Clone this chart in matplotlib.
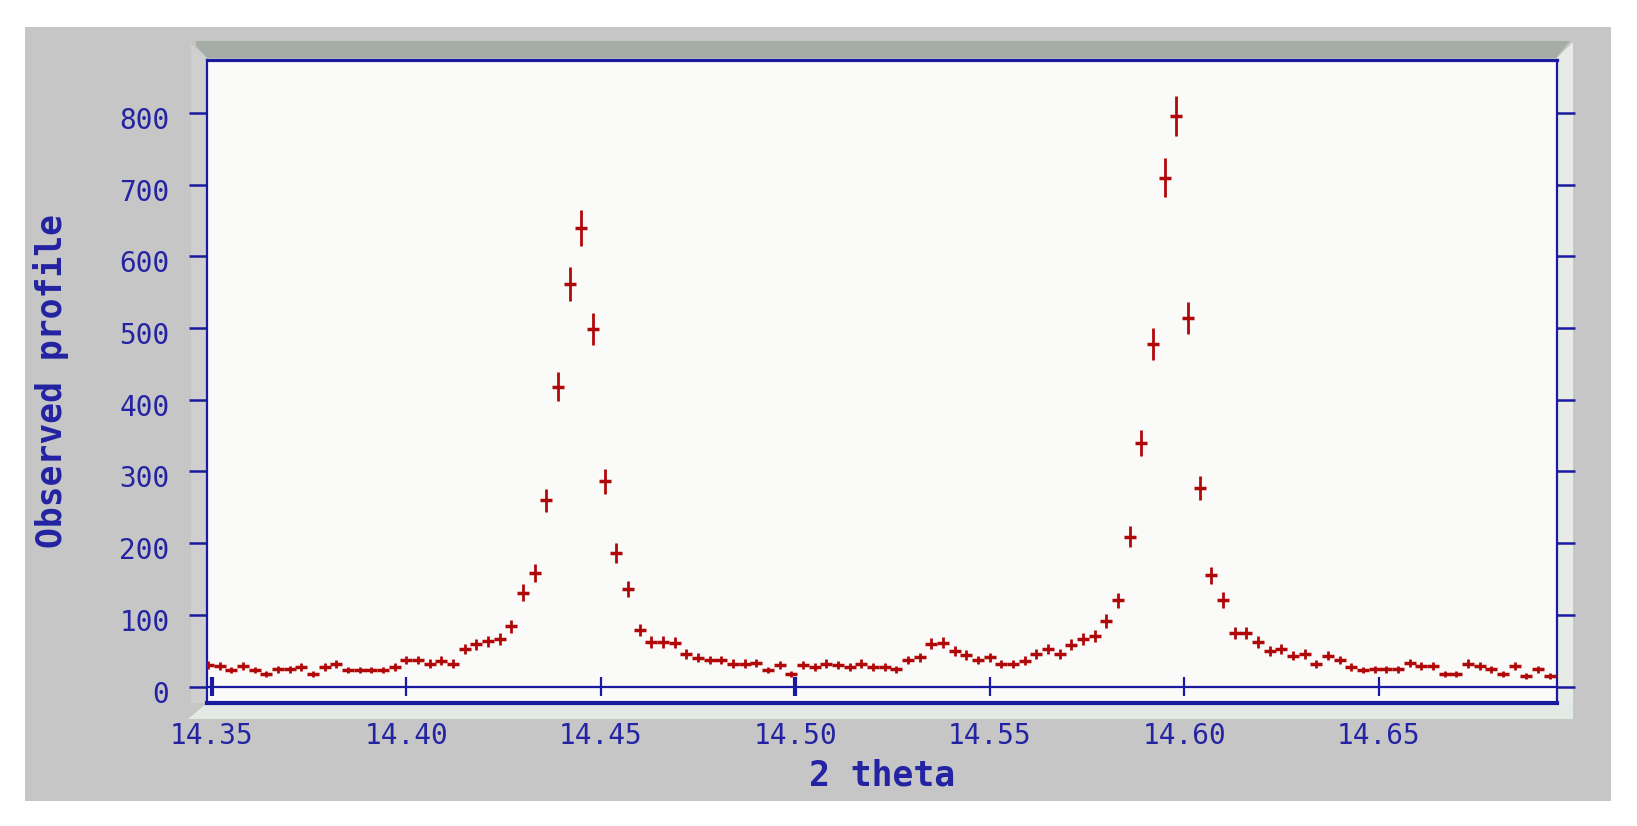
import matplotlib
matplotlib.use('Agg')
import matplotlib.pyplot as plt
import matplotlib.transforms as mtransforms
from matplotlib.patches import Polygon

# observed profile (2 theta, counts, esd)
two_theta = [14.349, 14.352, 14.355, 14.358, 14.361, 14.364, 14.367, 14.370, 14.373, 14.376,
             14.379, 14.382, 14.385, 14.388, 14.391, 14.394, 14.397, 14.400, 14.403, 14.406,
             14.409, 14.412, 14.415, 14.418, 14.421, 14.424, 14.427, 14.430, 14.433, 14.436,
             14.439, 14.442, 14.445, 14.448, 14.451, 14.454, 14.457, 14.460, 14.463, 14.466,
             14.469, 14.472, 14.475, 14.478, 14.481, 14.484, 14.487, 14.490, 14.493, 14.496,
             14.499, 14.502, 14.505, 14.508, 14.511, 14.514, 14.517, 14.520, 14.523, 14.526,
             14.529, 14.532, 14.535, 14.538, 14.541, 14.544, 14.547, 14.550, 14.553, 14.556,
             14.559, 14.562, 14.565, 14.568, 14.571, 14.574, 14.577, 14.580, 14.583, 14.586,
             14.589, 14.592, 14.595, 14.598, 14.601, 14.604, 14.607, 14.610, 14.613, 14.616,
             14.619, 14.622, 14.625, 14.628, 14.631, 14.634, 14.637, 14.640, 14.643, 14.646,
             14.649, 14.652, 14.655, 14.658, 14.661, 14.664, 14.667, 14.670, 14.673, 14.676,
             14.679, 14.682, 14.685, 14.688, 14.691, 14.694]
counts = [30, 29, 23, 29, 23, 17, 24, 24, 27, 17,
          27, 31, 23, 23, 23, 23, 27, 37, 37, 32,
          36, 32, 52, 59, 63, 66, 84, 131, 158, 260,
          418, 562, 640, 499, 286, 186, 136, 79, 62, 62,
          61, 45, 40, 37, 37, 32, 32, 33, 23, 30,
          17, 30, 27, 32, 30, 27, 32, 27, 27, 24,
          37, 41, 60, 61, 49, 44, 37, 41, 31, 31,
          36, 45, 52, 45, 58, 66, 70, 91, 120, 209,
          340, 478, 710, 796, 514, 277, 155, 121, 75, 75,
          62, 50, 52, 43, 45, 31, 43, 37, 27, 23,
          24, 24, 24, 33, 29, 29, 18, 18, 32, 29,
          24, 18, 29, 15, 24, 15]
esd = [5.5, 5.4, 4.8, 5.4, 4.8, 4.1, 4.9, 4.9, 5.2, 4.1,
       5.2, 5.6, 4.8, 4.8, 4.8, 4.8, 5.2, 6.1, 6.1, 5.7,
       6.0, 5.7, 7.2, 7.7, 7.9, 8.1, 9.2, 11.4, 12.6, 16.1,
       20.4, 23.7, 25.3, 22.3, 16.9, 13.6, 11.7, 8.9, 7.9, 7.9,
       7.8, 6.7, 6.3, 6.1, 6.1, 5.7, 5.7, 5.7, 4.8, 5.5,
       4.1, 5.5, 5.2, 5.7, 5.5, 5.2, 5.7, 5.2, 5.2, 4.9,
       6.1, 6.4, 7.7, 7.8, 7.0, 6.6, 6.1, 6.4, 5.6, 5.6,
       6.0, 6.7, 7.2, 6.7, 7.6, 8.1, 8.4, 9.5, 11.0, 14.5,
       18.4, 21.9, 26.6, 28.2, 22.7, 16.6, 12.4, 11.0, 8.7, 8.7,
       7.9, 7.1, 7.2, 6.6, 6.7, 5.6, 6.6, 6.1, 5.2, 4.8,
       4.9, 4.9, 4.9, 5.7, 5.4, 5.4, 4.2, 4.2, 5.7, 5.4,
       4.9, 4.2, 5.4, 3.9, 4.9, 3.9]

x_ticks = [14.35, 14.40, 14.45, 14.50, 14.55, 14.60, 14.65]
x_tick_labels = ['14.35', '14.40', '14.45', '14.50', '14.55', '14.60', '14.65']
y_ticks = [0, 100, 200, 300, 400, 500, 600, 700, 800]

W, H = 1637, 826
blue = '#1a1aa0'
txt = '#2323a3'
red = '#b00808'

plt.rcParams['font.family'] = ['DejaVu Sans Mono', 'DejaVu Sans']

fig = plt.figure(figsize=(W / 100, H / 100), dpi=100)
fig.patch.set_facecolor('white')


def P(px, py):
    return (px / W, 1 - py / H)


def add_poly(pts, color):
    fig.add_artist(Polygon([P(*p) for p in pts], closed=True, transform=fig.transFigure,
                           facecolor=color, edgecolor='none', zorder=-2))


# grey panel and the 3d box around the plot
add_poly([(25, 27), (1611, 27), (1611, 801), (25, 801)], '#c6c6c6')
add_poly([(196, 41), (1570, 41), (1556, 58), (207, 58), (196, 46)], '#a6aca6')
add_poly([(191, 44), (207, 58), (207, 703), (191, 703)], '#cfcfcf')
add_poly([(1557, 58), (1573, 42), (1573, 718), (1557, 718)], '#e6ebe6')
add_poly([(207, 703), (1573, 703), (1573, 719), (188, 719)], '#e3e9e3')

ax = fig.add_axes([207 / W, 1 - 703 / H, 1350 / W, 643 / H])
ax.set_facecolor('#fafaf8')

ax.errorbar(two_theta, counts, yerr=esd, fmt='_', color=red, ms=8, mew=2.5,
            elinewidth=2.0, capsize=0, zorder=3)

ax.set_xlim(14.3487, 14.6959)
ax.set_ylim(-23, 874)

# zero line carries the 2 theta ticks
ax.axhline(0, color=blue, lw=1.6, zorder=2)
ax.vlines(x_ticks, -13, 13, color=blue, lw=1.6, zorder=2)
ax.vlines([x_ticks[0], x_ticks[3]], -13, 13, color=blue, lw=3.0, zorder=2)

ax.set_xticks(x_ticks, x_tick_labels)
ax.set_yticks(y_ticks)
ax.tick_params(axis='x', length=0, pad=14, labelsize=20, labelcolor=txt)
ax.tick_params(axis='y', direction='out', length=13, width=1.8, color=blue,
               left=True, right=True, labelsize=20, labelcolor=txt, pad=14)
off = mtransforms.ScaledTranslation(0, -0.05, fig.dpi_scale_trans)
for lab in ax.get_yticklabels():
    lab.set_transform(lab.get_transform() + off)

for side, w in [('top', 2.3), ('left', 1.6), ('right', 1.6), ('bottom', 3.0)]:
    ax.spines[side].set_color(blue)
    ax.spines[side].set_linewidth(w)

ax.set_xlabel('2 theta', fontsize=25, color=txt, fontweight='bold', labelpad=6)
ax.set_ylabel('Observed profile', fontsize=25, color=txt, fontweight='bold', labelpad=36)

fig.savefig('out.png', dpi=100)
